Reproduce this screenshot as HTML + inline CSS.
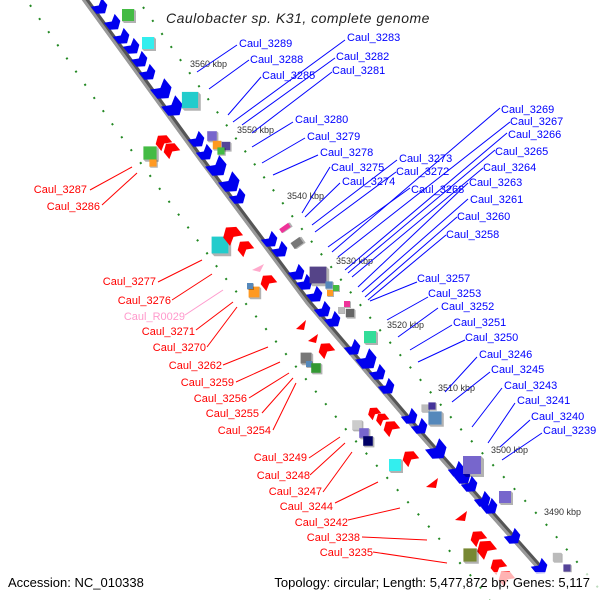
<!DOCTYPE html>
<html><head><meta charset="utf-8"><style>
html,body{margin:0;padding:0;background:#fff}
svg{display:block}
text{font-family:"Liberation Sans",sans-serif}
.b{fill:#0000ff;font-size:11px}
.r{fill:#ff0000;font-size:11px;text-anchor:end}
.k{fill:#333;font-size:9px}
.lb line{stroke:#0000ff;stroke-width:1}
.lr line{stroke:#ff0000;stroke-width:1}
</style></head><body>
<svg width="600" height="600" viewBox="0 0 600 600" xmlns="http://www.w3.org/2000/svg">
<defs>
<polygon id="ba" points="-6,-7 3,-7 8,0 3,7 -6,7 -2,0" fill="#0000ee"/>
<polygon id="ra" points="6,-7 -3,-7 -8,0 -3,7 6,7 2,0" fill="#ff0000"/>
<g id="bx"><rect x="-6" y="-6" width="12" height="12"/><polygon points="6,-6 8,-4 8,8 -4,8 -6,6 6,6" fill="#000" opacity="0.3"/></g>
</defs>
<polyline points="30,5 115,128 223,275 348,432 477,583 490,600" fill="none" stroke="#228822" stroke-width="2" stroke-dasharray="2,14"/>
<polyline points="143,7 237,140 295,220 375,324 458,426 545,523 600,590" fill="none" stroke="#228822" stroke-width="2" stroke-dasharray="2,14"/>
<polyline points="82,-5 202,160 309,303 422,435 542,570" fill="none" stroke="#555" stroke-width="6"/>
<polyline points="80,-5 200,160 307,303 420,435 540,570" fill="none" stroke="#999" stroke-width="3"/>
<g>
<use href="#ba" transform="translate(100,7) rotate(51)"/>
<use href="#ba" transform="translate(113,23) rotate(51)"/>
<use href="#ba" transform="translate(122,37) rotate(51)"/>
<use href="#ba" transform="translate(132,47) rotate(51)"/>
<use href="#ba" transform="translate(140,60) rotate(51)"/>
<use href="#ba" transform="translate(148,73) rotate(51)"/>
<use href="#ba" transform="translate(162,90) rotate(51) scale(1.3)"/>
<use href="#ba" transform="translate(173,107) rotate(51) scale(1.3)"/>
<use href="#ba" transform="translate(197,140) rotate(51)"/>
<use href="#ba" transform="translate(205,153) rotate(51)"/>
<use href="#ba" transform="translate(217,167) rotate(51) scale(1.3)"/>
<use href="#ba" transform="translate(230,183) rotate(51) scale(1.3)"/>
<use href="#ba" transform="translate(238,197) rotate(51)"/>
<use href="#ba" transform="translate(270,240) rotate(51)"/>
<use href="#ba" transform="translate(280,250) rotate(51)"/>
<use href="#ba" transform="translate(297,273) rotate(51)"/>
<use href="#ba" transform="translate(305,283) rotate(51)"/>
<use href="#ba" transform="translate(315,295) rotate(51)"/>
<use href="#ba" transform="translate(323,310) rotate(51)"/>
<use href="#ba" transform="translate(333,320) rotate(51)"/>
<use href="#ba" transform="translate(353,348) rotate(51)"/>
<use href="#ba" transform="translate(367,360) rotate(51) scale(1.3)"/>
<use href="#ba" transform="translate(378,373) rotate(51)"/>
<use href="#ba" transform="translate(387,387) rotate(51)"/>
<use href="#ba" transform="translate(410,417) rotate(51)"/>
<use href="#ba" transform="translate(420,427) rotate(51)"/>
<use href="#ba" transform="translate(437,450) rotate(51) scale(1.3)"/>
<use href="#ba" transform="translate(457,470) rotate(51)"/>
<use href="#ba" transform="translate(463,477) rotate(51)"/>
<use href="#ba" transform="translate(470,485) rotate(51)"/>
<use href="#ba" transform="translate(483,500) rotate(51)"/>
<use href="#ba" transform="translate(490,507) rotate(51)"/>
<use href="#ba" transform="translate(513,537) rotate(51)"/>
<use href="#ba" transform="translate(540,567) rotate(51)"/>
</g>
<g>
<use href="#bx" fill="#44bb44" transform="translate(128,15)"/>
<use href="#bx" fill="#33eeee" transform="translate(148,43)"/>
<use href="#bx" fill="#22cccc" transform="translate(190,100) scale(1.35)"/>
<use href="#bx" fill="#7766cc" transform="translate(212,136) scale(0.8)"/>
<use href="#bx" fill="#ff9922" transform="translate(217,145) scale(0.7)"/>
<use href="#bx" fill="#554499" transform="translate(226,146) scale(0.7)"/>
<use href="#bx" fill="#44bb44" transform="translate(221,151) scale(0.6)"/>
<use href="#bx" fill="#ee3399" transform="translate(285,228) rotate(-35) scale(0.9,0.4)"/>
<use href="#bx" fill="#777" transform="translate(297,243) rotate(-35) scale(0.9,0.6)"/>
<use href="#bx" fill="#554488" transform="translate(318,275) scale(1.4)"/>
<use href="#bx" fill="#5588bb" transform="translate(329,285) scale(0.6)"/>
<use href="#bx" fill="#ff9922" transform="translate(330,293) scale(0.5)"/>
<use href="#bx" fill="#44bb44" transform="translate(336,288) scale(0.5)"/>
<use href="#bx" fill="#ee3399" transform="translate(347,304) scale(0.5)"/>
<use href="#bx" fill="#bbb" transform="translate(341,310) scale(0.5)"/>
<use href="#bx" fill="#666" transform="translate(350,313) scale(0.7)"/>
<use href="#bx" fill="#33dd99" transform="translate(370,337)"/>
<use href="#bx" fill="#bbb" transform="translate(425,408) scale(0.6)"/>
<use href="#bx" fill="#443399" transform="translate(432,406) scale(0.6)"/>
<use href="#bx" fill="#5588bb" transform="translate(435,418) scale(1.1)"/>
<use href="#bx" fill="#7766cc" transform="translate(472,465) scale(1.5)"/>
<use href="#bx" fill="#7766cc" transform="translate(505,497)"/>
<use href="#bx" fill="#bbb" transform="translate(557,557) scale(0.7)"/>
<use href="#bx" fill="#554499" transform="translate(567,568) scale(0.6)"/>
</g>
<g>
<use href="#bx" fill="#44bb44" transform="translate(150,153) scale(1.1)"/>
<use href="#bx" fill="#ff9922" transform="translate(153,163) scale(0.6)"/>
<use href="#ra" transform="translate(163,142) rotate(51)"/>
<use href="#ra" transform="translate(171,150) rotate(51)"/>
<use href="#bx" fill="#22cccc" transform="translate(220,245) scale(1.4)"/>
<use href="#ra" transform="translate(232,235) rotate(51) scale(1.2)"/>
<use href="#ra" transform="translate(245,248) rotate(51)"/>
<polygon points="252,270 264,264 260,272" fill="#ffaacc"/>
<use href="#ra" transform="translate(268,282) rotate(51)"/>
<use href="#bx" fill="#ff9922" transform="translate(254,292) scale(0.9)"/>
<use href="#bx" fill="#5588bb" transform="translate(250,286) scale(0.5)"/>
<polygon points="296,329 306,320 304,330" fill="#ff0000"/>
<polygon points="308,341 318,334 316,343" fill="#ff0000"/>
<use href="#ra" transform="translate(326,350) rotate(51)"/>
<use href="#bx" fill="#777" transform="translate(306,358) scale(0.9)"/>
<use href="#bx" fill="#5588bb" transform="translate(309,364) scale(0.5)"/>
<use href="#bx" fill="#339933" transform="translate(316,368) scale(0.8)"/>
<use href="#bx" fill="#ccc" transform="translate(357,425) scale(0.8)"/>
<use href="#bx" fill="#7766cc" transform="translate(364,433) scale(0.8)"/>
<use href="#bx" fill="#000066" transform="translate(368,441) scale(0.8)"/>
<use href="#ra" transform="translate(374,413) rotate(51) scale(0.8)"/>
<use href="#ra" transform="translate(382,419) rotate(51) scale(0.8)"/>
<use href="#ra" transform="translate(391,428) rotate(51)"/>
<use href="#bx" fill="#33eeee" transform="translate(395,465)"/>
<use href="#ra" transform="translate(410,458) rotate(51)"/>
<polygon points="426,487 438,478 436,488" fill="#ff0000"/>
<polygon points="455,520 467,511 465,521" fill="#ff0000"/>
<use href="#ra" transform="translate(478,538) rotate(51)"/>
<use href="#ra" transform="translate(486,549) rotate(51) scale(1.2)"/>
<use href="#bx" fill="#778833" transform="translate(470,555) scale(1.1)"/>
<use href="#ra" transform="translate(498,566) rotate(51)"/>
<use href="#ra" transform="translate(506,578) rotate(51)"/>
</g>
<rect x="490" y="572" width="110" height="28" fill="#fff" opacity="0.7"/>
<text class="k" x="190" y="67">3560 kbp</text>
<text class="k" x="237" y="133">3550 kbp</text>
<text class="k" x="287" y="199">3540 kbp</text>
<text class="k" x="336" y="264">3530 kbp</text>
<text class="k" x="387" y="328">3520 kbp</text>
<text class="k" x="438" y="391">3510 kbp</text>
<text class="k" x="491" y="453">3500 kbp</text>
<text class="k" x="544" y="515">3490 kbp</text>
<g class="lb">
<line x1="237" y1="45" x2="197" y2="72"/>
<line x1="249" y1="60" x2="209" y2="89"/>
<line x1="261" y1="77" x2="228" y2="115"/>
<line x1="345" y1="40" x2="233" y2="122"/>
<line x1="335" y1="58" x2="242" y2="125"/>
<line x1="332" y1="72" x2="252" y2="133"/>
<line x1="293" y1="122" x2="252" y2="147"/>
<line x1="305" y1="138" x2="262" y2="163"/>
<line x1="318" y1="155" x2="273" y2="175"/>
<line x1="330" y1="167" x2="302" y2="213"/>
<line x1="340" y1="183" x2="305" y2="217"/>
<line x1="397" y1="160" x2="312" y2="225"/>
<line x1="396" y1="172" x2="315" y2="232"/>
<line x1="410" y1="188" x2="328" y2="247"/>
<line x1="500" y1="108" x2="332" y2="252"/>
<line x1="510" y1="122" x2="338" y2="257"/>
<line x1="507" y1="133" x2="345" y2="270"/>
<line x1="495" y1="150" x2="348" y2="273"/>
<line x1="483" y1="168" x2="352" y2="277"/>
<line x1="468" y1="183" x2="358" y2="287"/>
<line x1="468" y1="199" x2="362" y2="292"/>
<line x1="457" y1="217" x2="365" y2="297"/>
<line x1="446" y1="235" x2="368" y2="300"/>
<line x1="417" y1="282" x2="370" y2="301"/>
<line x1="428" y1="297" x2="387" y2="320"/>
<line x1="438" y1="308" x2="398" y2="337"/>
<line x1="452" y1="325" x2="410" y2="350"/>
<line x1="465" y1="340" x2="418" y2="362"/>
<line x1="477" y1="357" x2="445" y2="392"/>
<line x1="490" y1="372" x2="452" y2="402"/>
<line x1="502" y1="388" x2="472" y2="427"/>
<line x1="515" y1="403" x2="488" y2="443"/>
<line x1="530" y1="420" x2="500" y2="447"/>
<line x1="542" y1="433" x2="502" y2="460"/>
</g>
<g class="lr">
<line x1="90" y1="190" x2="132" y2="167"/>
<line x1="102" y1="205" x2="137" y2="173"/>
<line x1="158" y1="282" x2="202" y2="260"/>
<line x1="172" y1="300" x2="212" y2="274"/>
<line x1="196" y1="330" x2="233" y2="302"/>
<line x1="207" y1="347" x2="237" y2="307"/>
<line x1="223" y1="365" x2="268" y2="347"/>
<line x1="236" y1="382" x2="280" y2="362"/>
<line x1="249" y1="398" x2="289" y2="373"/>
<line x1="262" y1="413" x2="293" y2="378"/>
<line x1="273" y1="430" x2="296" y2="383"/>
<line x1="309" y1="458" x2="340" y2="437"/>
<line x1="310" y1="475" x2="345" y2="443"/>
<line x1="323" y1="492" x2="352" y2="452"/>
<line x1="335" y1="503" x2="378" y2="482"/>
<line x1="348" y1="520" x2="400" y2="508"/>
<line x1="362" y1="537" x2="427" y2="540"/>
<line x1="373" y1="552" x2="447" y2="563"/>
</g>
<line x1="185" y1="315" x2="223" y2="290" stroke="#ff99cc" stroke-width="1"/>
<text class="b" x="239" y="47">Caul_3289</text>
<text class="b" x="250" y="63">Caul_3288</text>
<text class="b" x="262" y="79">Caul_3285</text>
<text class="b" x="347" y="41">Caul_3283</text>
<text class="b" x="336" y="60">Caul_3282</text>
<text class="b" x="332" y="74">Caul_3281</text>
<text class="b" x="295" y="123">Caul_3280</text>
<text class="b" x="307" y="140">Caul_3279</text>
<text class="b" x="320" y="156">Caul_3278</text>
<text class="b" x="331" y="171">Caul_3275</text>
<text class="b" x="342" y="185">Caul_3274</text>
<text class="b" x="399" y="162">Caul_3273</text>
<text class="b" x="396" y="175">Caul_3272</text>
<text class="b" x="411" y="193">Caul_3268</text>
<text class="b" x="501" y="113">Caul_3269</text>
<text class="b" x="510" y="125">Caul_3267</text>
<text class="b" x="508" y="138">Caul_3266</text>
<text class="b" x="495" y="155">Caul_3265</text>
<text class="b" x="483" y="171">Caul_3264</text>
<text class="b" x="469" y="186">Caul_3263</text>
<text class="b" x="470" y="203">Caul_3261</text>
<text class="b" x="457" y="220">Caul_3260</text>
<text class="b" x="446" y="238">Caul_3258</text>
<text class="b" x="417" y="282">Caul_3257</text>
<text class="b" x="428" y="297">Caul_3253</text>
<text class="b" x="441" y="310">Caul_3252</text>
<text class="b" x="453" y="326">Caul_3251</text>
<text class="b" x="465" y="341">Caul_3250</text>
<text class="b" x="479" y="358">Caul_3246</text>
<text class="b" x="491" y="373">Caul_3245</text>
<text class="b" x="504" y="389">Caul_3243</text>
<text class="b" x="517" y="404">Caul_3241</text>
<text class="b" x="531" y="420">Caul_3240</text>
<text class="b" x="543" y="434">Caul_3239</text>
<text class="r" x="87" y="193">Caul_3287</text>
<text class="r" x="100" y="210">Caul_3286</text>
<text class="r" x="156" y="285">Caul_3277</text>
<text class="r" x="171" y="304">Caul_3276</text>
<text class="r" x="185" y="320" style="fill:#ff99cc">Caul_R0029</text>
<text class="r" x="195" y="335">Caul_3271</text>
<text class="r" x="206" y="351">Caul_3270</text>
<text class="r" x="222" y="369">Caul_3262</text>
<text class="r" x="234" y="386">Caul_3259</text>
<text class="r" x="247" y="402">Caul_3256</text>
<text class="r" x="259" y="417">Caul_3255</text>
<text class="r" x="271" y="434">Caul_3254</text>
<text class="r" x="307" y="461">Caul_3249</text>
<text class="r" x="310" y="479">Caul_3248</text>
<text class="r" x="322" y="495">Caul_3247</text>
<text class="r" x="333" y="510">Caul_3244</text>
<text class="r" x="348" y="526">Caul_3242</text>
<text class="r" x="360" y="541">Caul_3238</text>
<text class="r" x="373" y="556">Caul_3235</text>
<text x="166" y="23" font-size="14" font-style="italic" fill="#222" letter-spacing="0.5">Caulobacter sp. K31, complete genome</text>
<text x="8" y="587" font-size="13" fill="#000">Accession: NC_010338</text>
<text x="590" y="587" font-size="13" fill="#000" text-anchor="end">Topology: circular; Length: 5,477,872 bp; Genes: 5,117</text>
</svg>
</body></html>
